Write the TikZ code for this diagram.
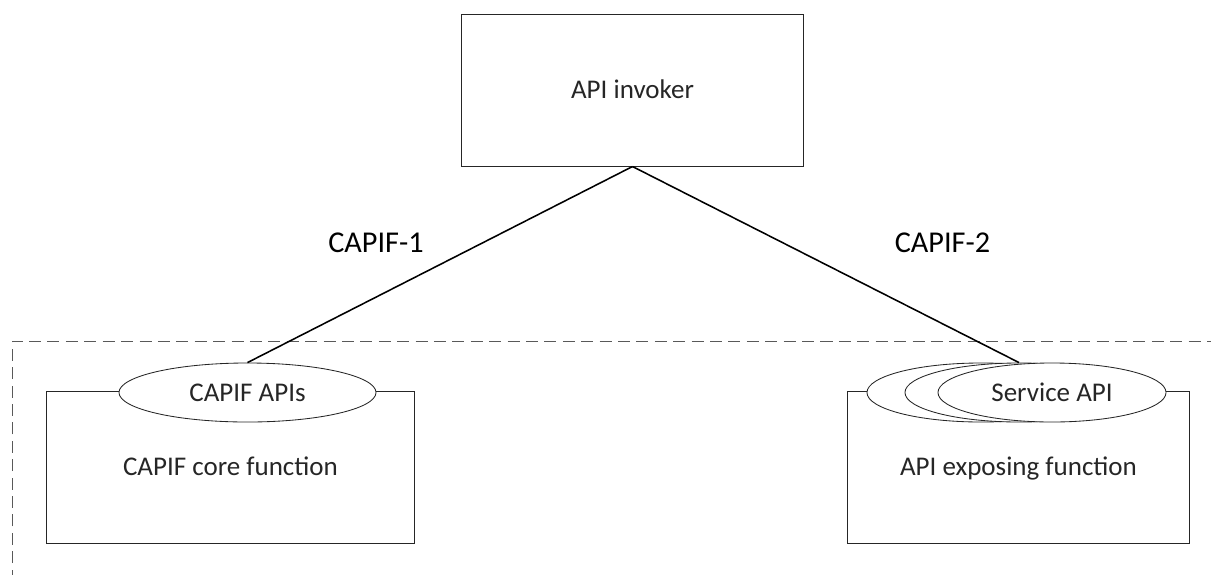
\documentclass[tikz,border=0pt]{standalone}
\usepackage{fontspec}
\setmainfont{Carlito}
\usetikzlibrary{positioning, shapes.geometric}

\begin{document}
\begin{tikzpicture}[x=0.025cm, y=-0.025cm,
        box/.style = {draw, black!85, line width=0.7pt, minimum height=3.775cm, text height=1.35em, text depth=0.2em, font=\fontsize{19.2}{22}\selectfont},
        api/.style = {draw, black!85, fill=white, ellipse, line width=0.6pt, minimum height=1.475cm, inner sep=0pt, font=\fontsize{19.2}{22}\selectfont},
        link/.style = {black, line width=1.1pt},
        ref/.style = {font=\fontsize{21.5}{25}\selectfont}
    ]
        \useasboundingbox (0,0) rectangle (1211,574);

        % dashed border, open to the right and bottom
        \draw[dashed, black!65, line width=0.7pt, dash pattern=on 0.3cm off 0.16cm] (12,600) |- (1240,341);

        \node[box, minimum width=8.525cm] (invoker) at (632.5,90.5) {API invoker};

        \node[box, minimum width=9.175cm] (core) at (230.5,467.5) {CAPIF core function};
        \node[api, minimum width=6.425cm] (capifapis) at (247.5,392.5) {CAPIF APIs};

        \node[box, minimum width=8.525cm] (aef) at (1018.5,467.5) {API exposing function};
        \node[api, minimum width=5.7cm] (svc1) at (981,392.5) {};
        \node[api, minimum width=5.7cm] (svc2) at (1019,392.5) {};
        \node[api, minimum width=5.7cm] (svc3) at (1052,392.5) {Service API};

        \draw[link] (invoker.south) -- (capifapis.north);
        \draw[link] (invoker.south) -- (svc2.north);

        \node[ref] (ref1) at (376,243) {CAPIF-1};
        \node[ref] (ref2) at (942.5,243) {CAPIF-2};

    \end{tikzpicture}
\end{document}
